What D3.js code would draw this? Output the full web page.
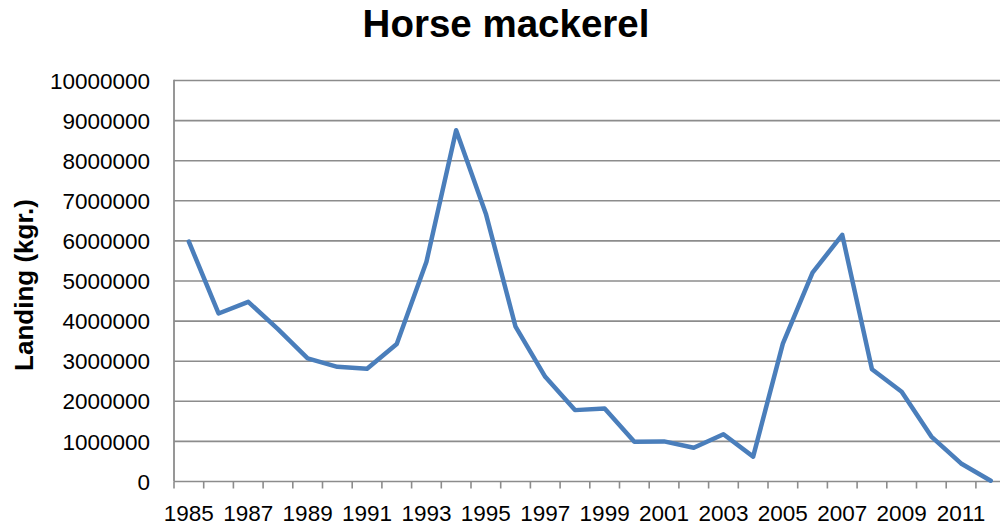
<!DOCTYPE html>
<html lang="en">
<head>
    <meta charset="UTF-8">
    <title>Horse mackerel</title>
    <script src="https://d3js.org/d3.v7.min.js"></script>
    <style>
        body, html {
            margin: 0;
            padding: 0;
            background-color: #ffffff;
            font-family: 'Liberation Sans', Arial, sans-serif;
        }
        svg {
            display: block;
        }
        .grid line {
            stroke: #8c8c8c;
            stroke-width: 1.6px;
        }
        .tick-label {
            font-size: 22.5px;
            fill: #000;
        }
    </style>
</head>
<body>

<svg id="chart" width="1000" height="531"></svg>

<script>
    // years on the category axis
    const years = [1985, 1986, 1987, 1988, 1989, 1990, 1991, 1992, 1993, 1994,
                   1995, 1996, 1997, 1998, 1999, 2000, 2001, 2002, 2003, 2004,
                   2005, 2006, 2007, 2008, 2009, 2010, 2011, 2012];

    // landings in kg
    const landings = [5980000, 4190000, 4480000, 3800000, 3070000, 2860000, 2810000, 3430000, 5480000, 8760000,
                      6680000, 3860000, 2610000, 1780000, 1820000, 990000, 1000000, 840000, 1180000, 620000,
                      3440000, 5210000, 6150000, 2800000, 2240000, 1120000, 450000, 20000];

    const labelYears = [1985, 1987, 1989, 1991, 1993, 1995, 1997, 1999, 2001, 2003, 2005, 2007, 2009, 2011];
    const yTicks = [0, 1000000, 2000000, 3000000, 4000000, 5000000, 6000000, 7000000, 8000000, 9000000, 10000000];

    const plotLeft = 174, plotTop = 80.5, plotBottom = 481.5, step = 29.7;
    const svg = d3.select("#chart");

    const x = d3.scaleBand()
        .domain(years)
        .range([plotLeft, plotLeft + step * years.length])
        .paddingInner(0).paddingOuter(0);

    const y = d3.scaleLinear()
        .domain([0, 10000000])
        .range([plotBottom, plotTop]);

    // title
    svg.append("text")
        .attr("x", 506)
        .attr("y", 37)
        .attr("text-anchor", "middle")
        .style("font-size", "38.5px")
        .style("font-weight", "bold")
        .text("Horse mackerel");

    // y axis title
    svg.append("text")
        .attr("transform", "translate(33,285) rotate(-90)")
        .attr("text-anchor", "middle")
        .style("font-size", "26px")
        .style("font-weight", "bold")
        .text("Landing (kgr.)");

    // horizontal gridlines
    svg.append("g")
        .attr("class", "grid")
        .selectAll("line")
        .data(yTicks)
        .enter()
        .append("line")
        .attr("x1", plotLeft)
        .attr("x2", 1000)
        .attr("y1", d => y(d))
        .attr("y2", d => y(d));

    // y tick labels
    svg.append("g")
        .selectAll("text")
        .data(yTicks)
        .enter()
        .append("text")
        .attr("class", "tick-label")
        .attr("x", 150)
        .attr("y", d => y(d))
        .attr("dy", "0.36em")
        .attr("text-anchor", "end")
        .text(d => d3.format("d")(d));

    // left axis line
    svg.append("line")
        .attr("x1", plotLeft).attr("x2", plotLeft)
        .attr("y1", plotTop - 0.8).attr("y2", plotBottom)
        .attr("stroke", "#8c8c8c")
        .attr("stroke-width", 1.8);

    // x tick marks sit between categories
    const boundaries = years.map(d => x(d)).concat([x(years[years.length - 1]) + x.bandwidth()]);
    svg.append("g")
        .selectAll("line")
        .data(boundaries)
        .enter()
        .append("line")
        .attr("x1", d => d).attr("x2", d => d)
        .attr("y1", plotBottom).attr("y2", plotBottom + 7)
        .attr("stroke", "#8c8c8c")
        .attr("stroke-width", 1.6);

    // x labels, every other year, centred on category
    svg.append("g")
        .selectAll("text")
        .data(labelYears)
        .enter()
        .append("text")
        .attr("class", "tick-label")
        .attr("x", d => x(d) + x.bandwidth() / 2)
        .attr("y", 521)
        .attr("text-anchor", "middle")
        .text(d => d);

    // the series
    const line = d3.line()
        .x((d, i) => x(years[i]) + x.bandwidth() / 2)
        .y(d => y(d));

    svg.append("path")
        .datum(landings)
        .attr("d", line)
        .attr("fill", "none")
        .attr("stroke", "#4a7ebb")
        .attr("stroke-width", 4.5)
        .attr("stroke-linejoin", "round")
        .attr("stroke-linecap", "round");
</script>

</body>
</html>
